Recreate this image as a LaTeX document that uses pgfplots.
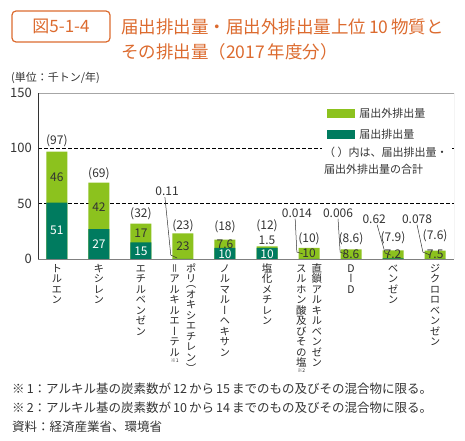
\documentclass[border=0pt]{standalone}
\usepackage{pgfplots}
\pgfplotsset{compat=1.18}
\usepackage{fontspec}
\setmainfont{Noto Sans CJK JP}
\newfontfamily\vfont[RawFeature=+vert]{Noto Sans CJK JP}
\definecolor{dkg}{HTML}{007B5F}
\definecolor{ltg}{HTML}{8CC21E}
\definecolor{org}{HTML}{DC6B2F}
\definecolor{txt}{HTML}{333333}

\ExplSyntaxOn
\cs_new_protected:Npn \vt_short:n #1
 {
  \hbox_set:Nn \l_tmpa_box {#1}
  \hbox_to_wd:nn {1em}
   {
    \hss
    \vrule height \dim_eval:n {\box_ht:N \l_tmpa_box + .1em} depth \dim_eval:n {\box_dp:N \l_tmpa_box + .1em} width 0pt \scan_stop:
    \box_use:N \l_tmpa_box
    \hss
   }
 }
\cs_new_protected:Npn \vt_item:n #1
 {
  \str_case:nnF {#1}
   {
    {（}{\vt_short:n {#1}}
    {）}{\vt_short:n {#1}}
   }
   {\hbox_to_wd:nn {1em} {\hss \vrule height .88em depth .12em width 0pt \scan_stop: #1 \hss}}
 }
\NewDocumentCommand \vt {m}
 { \vtop { \offinterlineskip \vfont \tl_map_function:nN {#1} \vt_item:n } }
\ExplSyntaxOff

\begin{document}
\begin{tikzpicture}[
  wl/.style={text=white, font=\fontsize{12}{12}\selectfont, inner sep=0pt},
  bl/.style={text=txt, font=\fontsize{12}{12}\selectfont, inner sep=0pt},
  ll/.style={draw=txt, line width=0.5pt},
]
\path[use as bounding box] (0,0) rectangle (465pt,440pt);
% header
\draw[org, line width=1.2pt, rounded corners=4pt] (12pt,429pt) rectangle (110pt,398pt);
\node[org, font=\fontsize{17}{17}\selectfont] at (61pt,413.5pt) {図5-1-4};
\node[org, anchor=west, inner sep=0pt, font=\fontsize{17.5}{17.5}\selectfont] at (121pt,413pt) {届出排出量・届出外排出量上位\,10\,物質と};
\node[org, anchor=west, inner sep=0pt, font=\fontsize{17.5}{17.5}\selectfont] at (121pt,388pt) {その排出量（2017\,年度分）};
\node[txt, anchor=west, inner sep=0pt, font=\fontsize{11}{11}\selectfont] at (11pt,362pt) {(単位：千トン/年)};

\begin{axis}[
  at={(38pt,181pt)}, anchor=south west,
  scale only axis, width=416pt, height=166pt,
  xmin=-0.45, xmax=9.45, ymin=0, ymax=150,
  ybar, bar width=21pt, bar shift=0pt,
  axis line style={draw=none},
  major tick length=0pt,
  ytick={0,50,100,150},
  extra y ticks={50,100}, extra y tick labels={},
  extra y tick style={grid=major, major grid style={black, dashed, dash pattern=on 3.5pt off 2.5pt, line width=0.7pt}},
  yticklabel style={anchor=east, inner sep=0pt, xshift=-6pt, text=txt, font=\fontsize{13}{13}\selectfont},
  /pgf/number format/assume math mode=true,
  xtick={0,...,9},
  xticklabels={
    \vt{トルエン},
    \vt{キシレン},
    \vt{エチルベンゼン},
    {\hbox{\vtop{\vt{＝アルキルエーテル}\hbox to 10.5pt{\hss\fontsize{5}{5}\selectfont ※1\hss}}\kern 6pt\vt{ポリ（オキシエチレン）}}},
    \vt{ノルマルーヘキサン},
    \vt{塩化メチレン},
    {\hbox{\vtop{\vt{スルホン酸及びその塩}\hbox to 10.5pt{\hss\fontsize{5}{5}\selectfont ※2\hss}}\kern 5pt\vt{直鎖アルキルベンゼン}}},
    \vt{DーD},
    \vt{ベンゼン},
    \vt{ジクロロベンゼン}
  },
  xticklabel style={anchor=north, inner sep=0pt, yshift=-4pt, text=black!85, font=\fontsize{10.5}{10.5}\selectfont},
  legend style={draw=none, fill=none, at={(rel axis cs:0.695,0.92)}, anchor=north west, inner sep=0pt, row sep=6pt, font=\fontsize{11}{11}\selectfont, text=txt, /tikz/every odd column/.append style={column sep=2pt}},
  legend cell align=left,
  legend image code/.code={\fill[#1] (0pt,-4.5pt) rectangle (28pt,4.5pt);},
]
% total (届出 + 届出外) drawn first, 届出 drawn over it
\addplot[fill=ltg, draw=none] coordinates {(0,97) (1,69) (2,32) (3,23.11) (4,17.6) (5,11.5) (6,10.014) (7,8.606) (8,7.82) (9,7.578)};
\addplot[fill=dkg, draw=none] coordinates {(0,51) (1,27) (2,15) (3,0.11) (4,10) (5,10) (6,0.014) (7,0.006) (8,0.62) (9,0.078)};
\legend{届出外排出量,届出排出量}
% frame
\draw[gray!70, line width=0.8pt] (rel axis cs:0,1) -- (rel axis cs:1,1) -- (rel axis cs:1,0);
\draw[gray, line width=0.8pt] (rel axis cs:0,0) -- (rel axis cs:1,0);
\draw[black!80, line width=0.8pt] (rel axis cs:0,0) -- (rel axis cs:0,1);
% segment labels
\node[wl] at (axis cs:0,25.5) {51};
\node[wl] at (axis cs:1,13) {27};
\node[wl] at (axis cs:2,7.3) {15};
\node[wl] at (axis cs:4,4.6) {10};
\node[wl] at (axis cs:5,4.6) {10};
\node[bl] at (axis cs:0,74) {46};
\node[bl] at (axis cs:1,46.5) {42};
\node[bl] at (axis cs:2,23) {17};
\node[bl] at (axis cs:3,11.2) {23};
\node[bl] at (axis cs:4,13.4) {7.6};
\node[bl] at (axis cs:5,17.3) {1.5};
\node[bl] at (axis cs:6,5) {10};
\node[bl] at (axis cs:7,4.6) {8.6};
\node[bl] at (axis cs:8,4.4) {7.2};
\node[bl] at (axis cs:9,4.4) {7.5};
% totals
\node[bl] at (axis cs:0,106.5) {(97)};
\node[bl] at (axis cs:1,77) {(69)};
\node[bl] at (axis cs:2,40.5) {(32)};
\node[bl] at (axis cs:3,30) {(23)};
\node[bl] at (axis cs:4,29.5) {(18)};
\node[bl] at (axis cs:5,30) {(12)};
\node[bl] at (axis cs:6,18.5) {(10)};
\node[bl] at (axis cs:7,18.5) {(8.6)};
\node[bl] at (axis cs:8,19) {(7.9)};
\node[bl] at (axis cs:9,21) {(7.6)};
% small emission labels with leaders
\node[bl] at (axis cs:2.62,61.4) {0.11};
\node[bl] at (axis cs:5.71,41.5) {0.014};
\node[bl] at (axis cs:6.69,41.5) {0.006};
\node[bl] at (axis cs:7.55,36) {0.62};
\node[bl] at (axis cs:8.57,36) {0.078};
\draw[ll] (axis cs:2.57,56) -- (axis cs:2.71,3.6) -- (axis cs:2.86,0.9);
\draw[ll] (axis cs:5.67,36.5) -- (axis cs:5.71,6.3) -- (axis cs:5.86,4.5);
\draw[ll] (axis cs:6.69,36.5) -- (axis cs:6.74,6.3) -- (axis cs:6.86,4.5);
\draw[ll] (axis cs:7.62,31) -- (axis cs:7.81,5.4) -- (axis cs:7.95,3.5);
\draw[ll] (axis cs:8.57,31) -- (axis cs:8.71,6.3) -- (axis cs:8.88,3.6);
\end{axis}

\node[fill=white, anchor=west, inner sep=2pt, text=txt, align=left, font=\fontsize{11}{17}\selectfont] at (322pt,279.5pt) {（\ ）内は、届出排出量・\\届出外排出量の合計};

% footnotes
\node[txt, anchor=west, inner sep=0pt, font=\fontsize{12.5}{12.5}\selectfont] at (12pt,51pt) {※\,1：アルキル基の炭素数が\,12\,から\,15\,までのもの及びその混合物に限る。};
\node[txt, anchor=west, inner sep=0pt, font=\fontsize{12.5}{12.5}\selectfont] at (12pt,32pt) {※\,2：アルキル基の炭素数が\,10\,から\,14\,までのもの及びその混合物に限る。};
\node[txt, anchor=west, inner sep=0pt, font=\fontsize{12.5}{12.5}\selectfont] at (12pt,13pt) {資料：経済産業省、環境省};
\end{tikzpicture}
\end{document}
